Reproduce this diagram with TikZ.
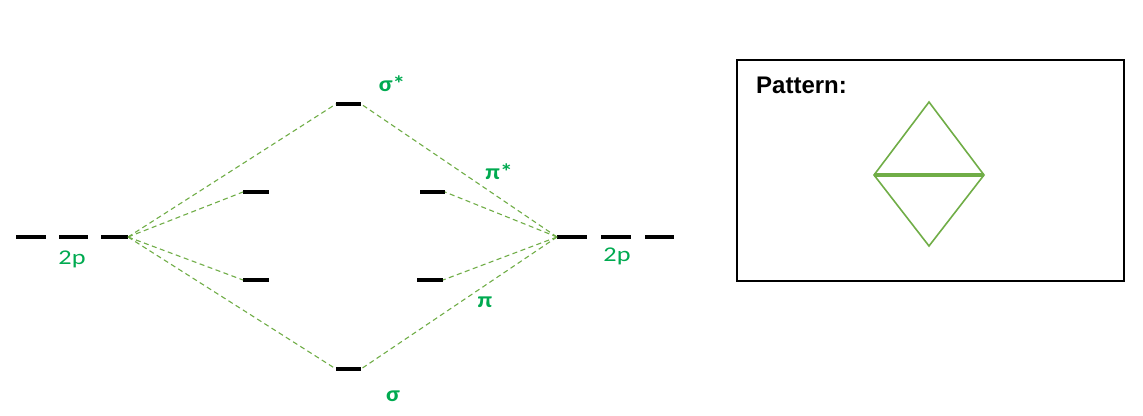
\documentclass[tikz,border=0pt]{standalone}
\usepackage{fontspec}
\setmainfont{Carlito}
\newfontfamily\arialfont{Liberation Sans}
\definecolor{lbl}{RGB}{0,170,80}
\definecolor{dsh}{RGB}{112,173,71}
\begin{document}
\begin{tikzpicture}[x=1pt,y=-1pt,
  lvl/.style={line width=4pt},
  conn/.style={draw=dsh,line width=1.1pt,dash pattern=on 5pt off 3.5pt},
  lab/.style={text=lbl,font=\fontsize{21}{21}\selectfont,inner sep=0pt,xscale=1.25},
  glab/.style={text=lbl,font=\bfseries\fontsize{22}{22}\selectfont,inner sep=0pt,xscale=1.15}]
\useasboundingbox (0,0) rectangle (1143,415);
% left 2p
\coordinate (l1a) at (16,237); \coordinate (l1b) at (46,237);
\coordinate (l2a) at (59,237); \coordinate (l2b) at (88,237);
\coordinate (l3a) at (101,237); \coordinate (L) at (128,237);
\draw[lvl] (l1a) -- (l1b); \draw[lvl] (l2a) -- (l2b); \draw[lvl] (l3a) -- (L);
% right 2p
\coordinate (R) at (557,237); \coordinate (r1b) at (587,237);
\coordinate (r2a) at (601,237); \coordinate (r2b) at (631,237);
\coordinate (r3a) at (645,237); \coordinate (r3b) at (674,237);
\draw[lvl] (R) -- (r1b); \draw[lvl] (r2a) -- (r2b); \draw[lvl] (r3a) -- (r3b);
% MO levels
\coordinate (ssa) at (336,104); \coordinate (ssb) at (361,104);
\coordinate (pla) at (243,192); \coordinate (plb) at (269,192);
\coordinate (psa) at (420,192); \coordinate (psb) at (445,192);
\coordinate (qla) at (243,280); \coordinate (qlb) at (269,280);
\coordinate (qra) at (417,280); \coordinate (qrb) at (443,280);
\coordinate (sa) at (336,369); \coordinate (sb) at (361,369);
\draw[lvl] (ssa) -- (ssb); \draw[lvl] (pla) -- (plb); \draw[lvl] (psa) -- (psb);
\draw[lvl] (qla) -- (qlb); \draw[lvl] (qra) -- (qrb); \draw[lvl] (sa) -- (sb);
% connectors
\draw[conn] (L) -- (ssa); \draw[conn] (L) -- (pla); \draw[conn] (L) -- (qla); \draw[conn] (L) -- (sa);
\draw[conn] (R) -- (ssb); \draw[conn] (R) -- (psb); \draw[conn] (R) -- (qrb); \draw[conn] (R) -- (sb);
% labels
\node[lab] (t1) at (72,259) {2p};
\node[lab] (t2) at (617,256) {2p};
\node[glab] (t3) at (392,84) {σ*};
\node[glab] (t4) at (499,172) {π*};
\node[glab] (t5) at (485,302) {π};
\node[glab] (t6) at (393,396) {σ};
% pattern box
\node[draw,line width=1.5pt,minimum width=387pt,minimum height=221pt,inner sep=0pt] (box) at (930.5,170.5) {};
\node[font=\arialfont\bfseries\fontsize{24}{24}\selectfont,anchor=west,inner sep=0pt] (pt) at (756,85) {Pattern:};
\coordinate (dt) at (929,102); \coordinate (dl) at (874,175);
\coordinate (dr) at (984,175); \coordinate (db) at (929,246);
\draw[draw=dsh,line width=1.6pt,line join=miter] (dl) -- (dt) -- (dr) -- (db) -- cycle;
\draw[draw=dsh,line width=3.5pt] (dl) -- (dr);
\end{tikzpicture}
\end{document}
